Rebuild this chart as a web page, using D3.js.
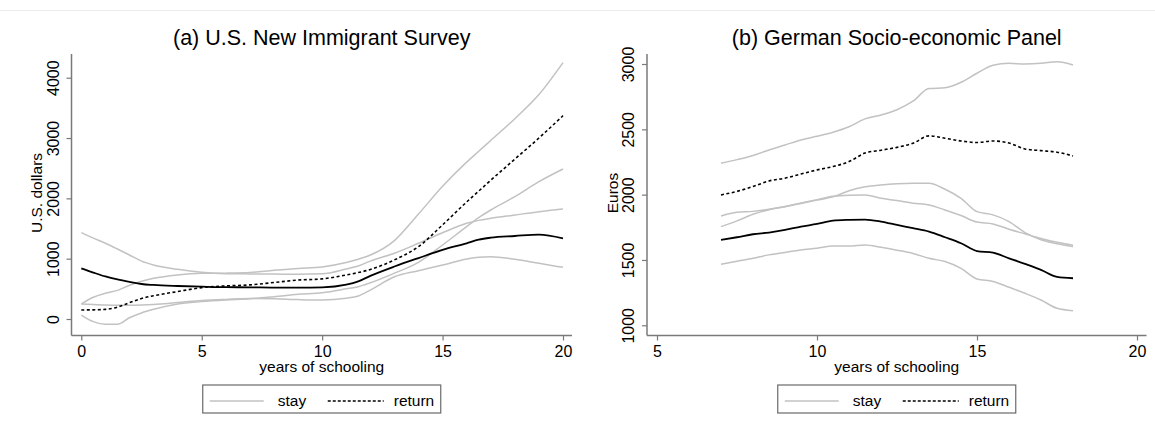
<!DOCTYPE html>
<html lang="en">
  <head>
    <meta charset="UTF-8" />
    <script src="https://d3js.org/d3.v7.min.js"></script>
    <style>
      body { margin: 0; background: #fff; }
      text { font-family: "Liberation Sans", Arial, sans-serif; fill: #000; }
      .band { fill: none; stroke: #c2c2c2; stroke-width: 1.5; }
      .mean { fill: none; stroke: #000; stroke-width: 1.8; }
      .ret { fill: none; stroke: #000; stroke-width: 1.6; stroke-dasharray: 3, 2.5; }
      .frame { stroke: #7a7a7a; stroke-width: 1.5; }
      .tick line { stroke: #7a7a7a; stroke-width: 1.2; }
    </style>
  </head>
  <body>
    <svg id="chart" width="1155" height="445"></svg>
    <script>
      // ---- data: panel (a) U.S. New Immigrant Survey ----
      const usYears = [0, 0.5, 1, 1.5, 2, 2.5, 3, 4, 5, 6, 7, 8, 9, 10, 11, 11.5, 12, 13, 14, 15, 16, 16.5, 17, 18, 19, 20];
      const usStay = [840, 770, 705, 655, 615, 580, 564, 547, 536, 527, 525, 520, 520, 525, 570, 625, 715, 870, 1010, 1145, 1255, 1315, 1348, 1376, 1400, 1337];
      const usStayHi = [1432, 1340, 1255, 1160, 1061, 960, 896, 824, 775, 752, 748, 745, 742, 750, 830, 880, 960, 1090, 1255, 1430, 1586, 1635, 1669, 1724, 1779, 1824];
      const usStayLo = [250, 240, 232, 228, 228, 232, 240, 272, 305, 325, 340, 335, 322, 315, 345, 381, 480, 700, 801, 895, 995, 1025, 1033, 989, 923, 856];
      const usReturn = [150, 152, 160, 195, 271, 340, 385, 455, 520, 548, 565, 605, 645, 665, 730, 770, 820, 980, 1200, 1560, 1940, 2120, 2300, 2650, 3000, 3370];
      const usReturnHi = [249, 360, 426, 475, 560, 625, 674, 730, 757, 760, 770, 808, 838, 862, 935, 989, 1060, 1300, 1740, 2200, 2600, 2780, 2960, 3320, 3720, 4250];
      const usReturnLo = [66, -44, -88, -88, 20, 100, 160, 249, 288, 315, 335, 370, 410, 436, 500, 536, 600, 760, 940, 1227, 1531, 1680, 1807, 2028, 2277, 2487];

      // ---- data: panel (b) German Socio-economic Panel ----
      const gsYears = [7, 7.5, 8, 8.5, 9, 9.5, 10, 10.5, 11, 11.5, 12, 12.5, 13, 13.5, 14, 14.5, 15, 15.5, 16, 16.5, 17, 17.5, 18];
      const gsStay = [1653, 1674, 1697, 1710, 1730, 1755, 1776, 1801, 1807, 1809, 1794, 1768, 1743, 1717, 1674, 1628, 1568, 1556, 1513, 1470, 1424, 1370, 1360];
      const gsStayHi = [1837, 1865, 1872, 1888, 1910, 1937, 1962, 1987, 1996, 1998, 1972, 1955, 1935, 1921, 1883, 1840, 1790, 1776, 1735, 1700, 1665, 1635, 1612];
      const gsStayLo = [1467, 1490, 1513, 1539, 1558, 1577, 1590, 1607, 1607, 1615, 1597, 1575, 1550, 1513, 1488, 1436, 1355, 1336, 1291, 1245, 1194, 1130, 1112];
      const gsReturn = [1998, 2025, 2062, 2105, 2126, 2158, 2189, 2215, 2253, 2318, 2340, 2362, 2393, 2450, 2432, 2411, 2399, 2411, 2395, 2350, 2337, 2325, 2296];
      const gsReturnHi = [2240, 2268, 2300, 2342, 2380, 2419, 2447, 2478, 2520, 2580, 2610, 2650, 2715, 2812, 2818, 2860, 2929, 2990, 3005, 3000, 3005, 3018, 2993];
      const gsReturnLo = [1755, 1799, 1850, 1885, 1908, 1933, 1958, 1983, 2030, 2060, 2074, 2083, 2087, 2087, 2041, 1972, 1870, 1845, 1794, 1710, 1655, 1625, 1602];

      const legendLabels = ["stay", "return"];

      const svg = d3.select("#chart");

      // faint rule at the top of the picture
      svg.append("line")
        .attr("x1", 0).attr("x2", 1155).attr("y1", 10.5).attr("y2", 10.5)
        .attr("stroke", "#ececec").attr("stroke-width", 1);

      function panel(opt) {
        const g = svg.append("g");
        const x = d3.scaleLinear().domain(opt.xDomain).range(opt.xRange);
        const y = d3.scaleLinear().domain(opt.yDomain).range(opt.yRange);
        const f = opt.frame; // [left, top, right, bottom]

        // title
        g.append("text")
          .attr("x", (f[0] + f[2]) / 2).attr("y", 45)
          .attr("text-anchor", "middle").attr("font-size", 21.5)
          .text(opt.title);

        // frame lines (left and bottom only)
        g.append("line").attr("class", "frame")
          .attr("x1", f[0]).attr("x2", f[0]).attr("y1", f[1]).attr("y2", f[3]);
        g.append("line").attr("class", "frame")
          .attr("x1", f[0]).attr("x2", f[2]).attr("y1", f[3]).attr("y2", f[3]);

        // x axis
        const xa = g.append("g")
          .attr("transform", `translate(0,${f[3]})`)
          .call(d3.axisBottom(x).tickValues(opt.xTicks).tickSize(5).tickSizeOuter(0).tickFormat(d3.format("d")));
        xa.select(".domain").remove();
        xa.selectAll("text").attr("font-size", 16).attr("font-family", null)
          .attr("fill", "#000").attr("y", 10).attr("dy", "0.71em");

        // y axis with vertical labels
        const ya = g.append("g")
          .attr("transform", `translate(${f[0]},0)`)
          .call(d3.axisLeft(y).tickValues(opt.yTicks).tickSize(5).tickSizeOuter(0).tickFormat(d3.format("d")));
        ya.select(".domain").remove();
        ya.selectAll("text")
          .attr("font-size", 16).attr("font-family", null).attr("fill", "#000")
          .attr("text-anchor", "middle")
          .attr("transform", "rotate(-90)")
          .attr("x", 0).attr("y", -13).attr("dy", 0);

        // axis titles
        g.append("text")
          .attr("x", (f[0] + f[2]) / 2).attr("y", 372)
          .attr("text-anchor", "middle").attr("font-size", 15.5)
          .text("years of schooling");
        g.append("text")
          .attr("transform", `translate(${opt.yLabelX},193) rotate(-90)`)
          .attr("text-anchor", "middle").attr("font-size", 15.5)
          .text(opt.yLabel);

        // curves
        const line = d3.line()
          .x((d, i) => x(opt.years[i]))
          .y(d => y(d))
          .curve(d3.curveMonotoneX);
        opt.bands.forEach(s => g.append("path").attr("class", "band").attr("d", line(s)));
        g.append("path").attr("class", "ret").attr("d", line(opt.ret));
        g.append("path").attr("class", "mean").attr("d", line(opt.stay));

        // legend
        const cx = (f[0] + f[2]) / 2;
        const lg = g.append("g").attr("transform", `translate(${cx - 119},385)`);
        lg.append("rect").attr("width", 238).attr("height", 28)
          .attr("fill", "#fff").attr("stroke", "#6a6a6a").attr("stroke-width", 1.2);
        lg.append("line").attr("x1", 7).attr("x2", 61).attr("y1", 16).attr("y2", 16)
          .attr("stroke", "#c2c2c2").attr("stroke-width", 1.5);
        lg.append("text").attr("x", 75).attr("y", 21).attr("font-size", 15.5).text(legendLabels[0]);
        lg.append("line").attr("x1", 125).attr("x2", 181).attr("y1", 16).attr("y2", 16)
          .attr("stroke", "#000").attr("stroke-width", 1.4).attr("stroke-dasharray", "3,2");
        lg.append("text").attr("x", 191).attr("y", 21).attr("font-size", 15.5).text(legendLabels[1]);
      }

      panel({
        title: "(a) U.S. New Immigrant Survey",
        yLabel: "U.S. dollars",
        yLabelX: 42,
        frame: [71.5, 54, 572, 335.5],
        xDomain: [0, 20], xRange: [81.3, 563],
        yDomain: [0, 4000], yRange: [319, 77.7],
        xTicks: [0, 5, 10, 15, 20],
        yTicks: [0, 1000, 2000, 3000, 4000],
        years: usYears,
        stay: usStay,
        ret: usReturn,
        bands: [usStayHi, usStayLo, usReturnHi, usReturnLo]
      });

      panel({
        title: "(b) German Socio-economic Panel",
        yLabel: "Euros",
        yLabelX: 618,
        frame: [647, 54, 1146.5, 335.5],
        xDomain: [5, 20], xRange: [657, 1137],
        yDomain: [1000, 3000], yRange: [325.3, 64],
        xTicks: [5, 10, 15, 20],
        yTicks: [1000, 1500, 2000, 2500, 3000],
        years: gsYears,
        stay: gsStay,
        ret: gsReturn,
        bands: [gsStayHi, gsStayLo, gsReturnHi, gsReturnLo]
      });
    </script>
  </body>
</html>
